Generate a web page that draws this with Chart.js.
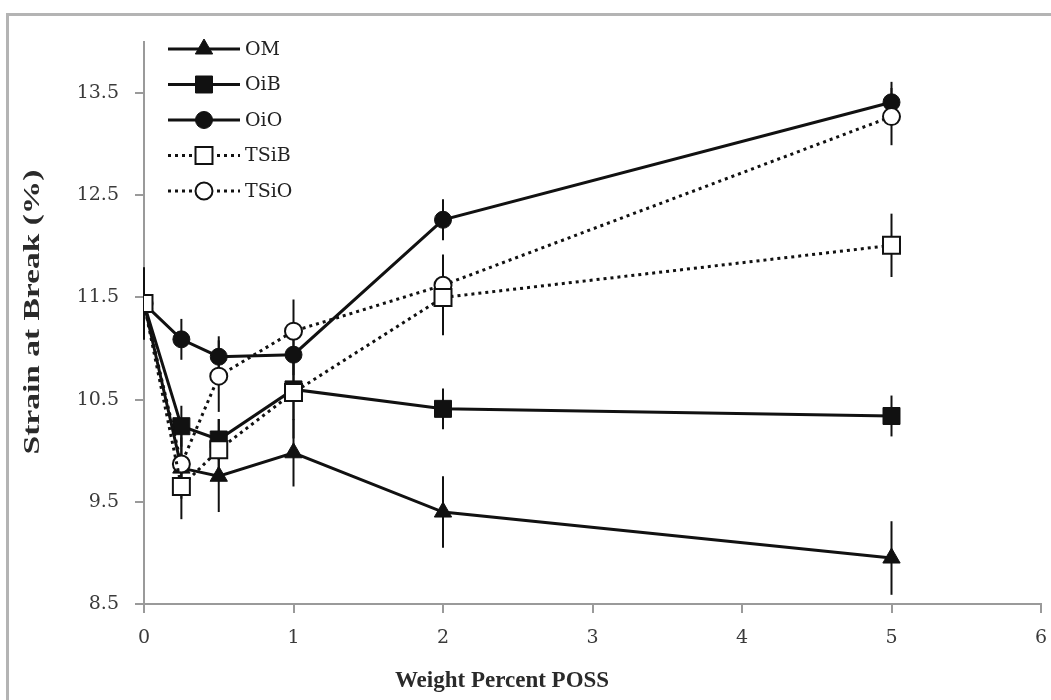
<!DOCTYPE html>
<html>
<head>
<meta charset="utf-8">
<script src="https://cdn.jsdelivr.net/npm/chart.js@4.4.1/dist/chart.umd.min.js"></script>
<style>
  html, body { margin: 0; padding: 0; background: #fff; overflow: hidden; }
  #frame {
    position: absolute; left: 6px; top: 13px;
    width: 1100px; height: 750px;
    border-left: 3px solid #b4b4b4; border-top: 3px solid #b4b4b4;
  }
  #wrap { position: absolute; left: 0; top: 0; width: 1051px; height: 700px; }
</style>
</head>
<body>
<div id="frame"></div>
<div id="wrap"><canvas id="chart"></canvas></div>
<script>
// weight percent POSS
const xValues = [0, 0.25, 0.5, 1, 2, 5];
const xTicks = [0, 1, 2, 3, 4, 5, 6];
const yTicks = [8.5, 9.5, 10.5, 11.5, 12.5, 13.5];

// strain at break (%) and its error bars
const omValues   = [11.44, 9.83, 9.75, 9.98, 9.40, 8.95];
const omErrors   = [0.35, 0.30, 0.35, 0.33, 0.35, 0.36];
const oibValues  = [11.44, 10.24, 10.11, 10.60, 10.41, 10.34];
const oibErrors  = [0.35, 0.20, 0.20, 0.30, 0.20, 0.20];
const oioValues  = [11.44, 11.09, 10.92, 10.94, 12.26, 13.41];
const oioErrors  = [0.35, 0.20, 0.20, 0.20, 0.20, 0.20];
const tsibValues = [11.44, 9.65, 10.01, 10.57, 11.50, 12.01];
const tsibErrors = [0.35, 0.32, 0.30, 0.45, 0.37, 0.31];
const tsioValues = [11.44, 9.87, 10.73, 11.17, 11.62, 13.27];
const tsioErrors = [0.35, 0.30, 0.35, 0.31, 0.30, 0.28];

const serif = "'DejaVu Serif', serif";

function toPoints(ys) {
    return xValues.map((x, i) => ({ x: x, y: ys[i] }));
}

function makeSet(label, ys, errs, style, filled, dotted, order) {
    return {
        label: label,
        data: toPoints(ys),
        errors: errs,
        borderColor: "#111",
        borderWidth: 3,
        borderDash: dotted ? [3, 4] : [],
        pointStyle: style,
        pointRadius: style === "rect" ? 12 : (style === "triangle" ? 10 : 8.5),
        pointBackgroundColor: filled ? "#111" : "#fff",
        pointBorderColor: "#111",
        pointBorderWidth: filled ? 1 : 2,
        tension: 0,
        order: order
    };
}

// vertical error bars, drawn under lines and markers
const errorBars = {
    id: "errorBars",
    beforeDatasetsDraw(chart) {
        const ctx = chart.ctx;
        const xs = chart.scales.x, ys = chart.scales.y;
        ctx.save();
        ctx.strokeStyle = "#111";
        ctx.lineWidth = 2;
        chart.data.datasets.forEach(ds => {
            ds.data.forEach((p, i) => {
                const px = xs.getPixelForValue(p.x);
                ctx.beginPath();
                ctx.moveTo(px, ys.getPixelForValue(p.y + ds.errors[i]));
                ctx.lineTo(px, ys.getPixelForValue(p.y - ds.errors[i]));
                ctx.stroke();
            });
        });
        ctx.restore();
    }
};

function drawMarker(ctx, ds, x, y) {
    const r = ds.pointRadius;
    ctx.beginPath();
    if (ds.pointStyle === "rect") {
        const s = r * Math.SQRT1_2;
        ctx.rect(x - s, y - s, 2 * s, 2 * s);
    } else if (ds.pointStyle === "triangle") {
        ctx.moveTo(x, y - r);
        ctx.lineTo(x + r * Math.sin(2 * Math.PI / 3), y - r * Math.cos(2 * Math.PI / 3));
        ctx.lineTo(x + r * Math.sin(4 * Math.PI / 3), y - r * Math.cos(4 * Math.PI / 3));
        ctx.closePath();
    } else {
        ctx.arc(x, y, r, 0, Math.PI * 2);
    }
    ctx.fillStyle = ds.pointBackgroundColor;
    ctx.fill();
    ctx.lineWidth = ds.pointBorderWidth;
    ctx.strokeStyle = ds.pointBorderColor;
    ctx.stroke();
}

// legend inside the plot + axis titles
const decorations = {
    id: "decorations",
    afterDraw(chart) {
        const ctx = chart.ctx;
        const a = chart.chartArea;
        ctx.save();
        chart.data.datasets.forEach((ds, i) => {
            const y = a.top + 7 + i * 35.5;
            const x0 = a.left + 24, x1 = a.left + 96;
            ctx.beginPath();
            ctx.setLineDash(ds.borderDash);
            ctx.lineWidth = 3;
            ctx.strokeStyle = "#111";
            ctx.moveTo(x0, y);
            ctx.lineTo(x1, y);
            ctx.stroke();
            ctx.setLineDash([]);
            drawMarker(ctx, ds, (x0 + x1) / 2, y);
            ctx.fillStyle = "#222";
            ctx.font = "19px " + serif;
            ctx.textAlign = "left";
            ctx.textBaseline = "middle";
            ctx.fillText(ds.label, x1 + 5, y + 1);
        });

        ctx.fillStyle = "#2a2a2a";
        ctx.font = "bold 23px 'Liberation Serif', serif";
        ctx.textAlign = "center";
        ctx.textBaseline = "middle";
        ctx.fillText("Weight Percent POSS", 502, 681);

        const yTitle = "Strain at Break (%)";
        ctx.font = "bold 24px 'Liberation Serif', serif";
        const stretch = 285 / ctx.measureText(yTitle).width;
        ctx.translate(33, 312);
        ctx.rotate(-Math.PI / 2);
        ctx.scale(stretch, 1);
        ctx.fillText(yTitle, 0, 0);
        ctx.restore();
    }
};

new Chart(document.getElementById("chart"), {
    type: "line",
    data: {
        datasets: [
            makeSet("OM", omValues, omErrors, "triangle", true, false, 4),
            makeSet("OiB", oibValues, oibErrors, "rect", true, false, 3),
            makeSet("OiO", oioValues, oioErrors, "circle", true, false, 2),
            makeSet("TSiB", tsibValues, tsibErrors, "rect", false, true, 0),
            makeSet("TSiO", tsioValues, tsioErrors, "circle", false, true, 1)
        ]
    },
    options: {
        responsive: true,
        maintainAspectRatio: false,
        animation: false,
        layout: { autoPadding: false, padding: { left: 0, right: 10, top: 42, bottom: 0 } },
        plugins: {
            legend: { display: false },
            tooltip: { enabled: false }
        },
        scales: {
            x: {
                type: "linear",
                min: 0,
                max: 6,
                afterBuildTicks: axis => { axis.ticks = xTicks.map(v => ({ value: v })); },
                afterFit: axis => {
                    axis.height = 96;
                    axis.paddingLeft = 0;
                    axis.paddingRight = 0;
                },
                grid: { drawOnChartArea: false, color: "#9a9a9a", tickLength: 9, lineWidth: 2 },
                border: { color: "#9a9a9a", width: 2 },
                ticks: { color: "#3a3a3a", font: { family: serif, size: 19 }, padding: 14 }
            },
            y: {
                type: "linear",
                min: 8.5,
                max: 14.0,
                afterBuildTicks: axis => { axis.ticks = yTicks.map(v => ({ value: v })); },
                afterFit: axis => {
                    axis.width = 144;
                    axis.paddingTop = 0;
                    axis.paddingBottom = 0;
                },
                grid: { drawOnChartArea: false, color: "#9a9a9a", tickLength: 9, lineWidth: 2 },
                border: { color: "#9a9a9a", width: 2 },
                ticks: { color: "#3a3a3a", font: { family: serif, size: 19 }, padding: 16 }
            }
        }
    },
    plugins: [errorBars, decorations]
});
</script>
</body>
</html>
